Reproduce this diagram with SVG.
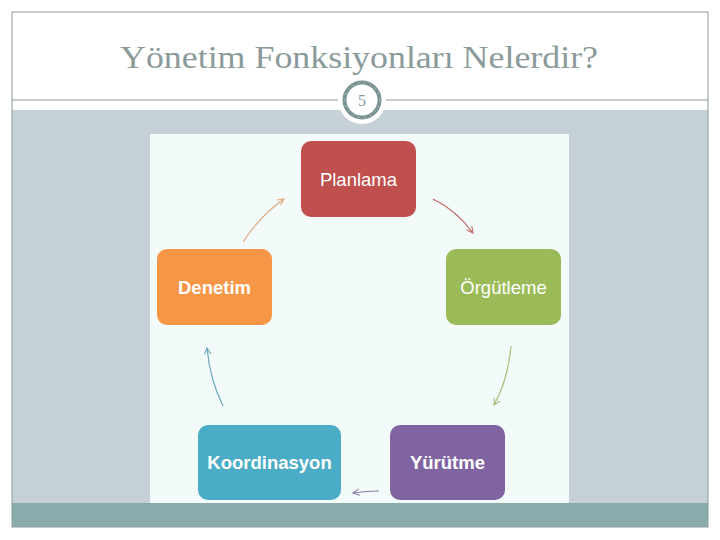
<svg xmlns="http://www.w3.org/2000/svg" width="720" height="540" viewBox="0 0 720 540">
<defs>
<style>
.node rect{stroke:none}
.lbl{font-family:"Liberation Sans",Arial,sans-serif;font-size:18.5px;fill:#ffffff;text-anchor:middle}
.b{font-weight:bold}
.conn path{fill:none;stroke-width:1.2}
</style>
<marker id="ah-o" viewBox="0 0 10 10" refX="9" refY="5" markerWidth="8" markerHeight="8" orient="auto" markerUnits="userSpaceOnUse"><path d="M1,1 L9,5 L1,9" fill="none" stroke="#e2a878" stroke-width="1.3"/></marker>
<marker id="ah-r" viewBox="0 0 10 10" refX="9" refY="5" markerWidth="8" markerHeight="8" orient="auto" markerUnits="userSpaceOnUse"><path d="M1,1 L9,5 L1,9" fill="none" stroke="#c46464" stroke-width="1.3"/></marker>
<marker id="ah-g" viewBox="0 0 10 10" refX="9" refY="5" markerWidth="8" markerHeight="8" orient="auto" markerUnits="userSpaceOnUse"><path d="M1,1 L9,5 L1,9" fill="none" stroke="#a9bd7a" stroke-width="1.3"/></marker>
<marker id="ah-p" viewBox="0 0 10 10" refX="9" refY="5" markerWidth="8" markerHeight="8" orient="auto" markerUnits="userSpaceOnUse"><path d="M1,1 L9,5 L1,9" fill="none" stroke="#8a7ca4" stroke-width="1.3"/></marker>
<marker id="ah-b" viewBox="0 0 10 10" refX="9" refY="5" markerWidth="8" markerHeight="8" orient="auto" markerUnits="userSpaceOnUse"><path d="M1,1 L9,5 L1,9" fill="none" stroke="#6aa6b8" stroke-width="1.3"/></marker>
</defs>
<rect x="0" y="0" width="720" height="540" fill="#ffffff"/>
<g id="frame">
<rect x="12" y="110" width="696" height="393" fill="#c5d1d7"/>
<rect x="12" y="503" width="696" height="24" fill="#8aabab"/>
<rect x="12" y="12" width="696" height="515" fill="none" stroke="#8a9a9a" stroke-width="1"/>
<line x1="12" y1="100" x2="708" y2="100" stroke="#8a9a9a" stroke-width="1"/>
</g>
<text x="120" y="68" textLength="478" lengthAdjust="spacingAndGlyphs" font-family="'Liberation Serif','Times New Roman',serif" font-size="31" fill="#8a9a9a">Yönetim Fonksiyonları Nelerdir?</text>
<g id="pagenum">
<circle cx="362" cy="100" r="24" fill="#ffffff"/>
<circle cx="362" cy="100" r="17.5" fill="#ffffff" stroke="#7b9393" stroke-width="4"/>
<circle cx="362" cy="100" r="17.5" fill="none" stroke="#c9d6d6" stroke-width="1" stroke-dasharray="1 5"/>
<text x="362" y="106" font-family="'Liberation Serif',serif" font-size="16" fill="#8a9a9a" text-anchor="middle">5</text>
</g>
<rect x="150" y="134" width="419" height="369" fill="#f2fafa"/>
<g id="planlama" class="node"><rect x="301" y="141" width="115" height="76" rx="10" fill="#c0504d"/><text class="lbl" x="358.5" y="185.5">Planlama</text></g>
<g id="orgutleme" class="node"><rect x="446" y="249" width="115" height="76" rx="10" fill="#9bbb59"/><text class="lbl" x="503.5" y="293.5">Örgütleme</text></g>
<g id="yurutme" class="node"><rect x="390" y="425" width="115" height="75" rx="10" fill="#8064a2"/><text class="lbl b" x="447.5" y="468.5">Yürütme</text></g>
<g id="koordinasyon" class="node"><rect x="198" y="425" width="143" height="75" rx="10" fill="#4bacc6"/><text class="lbl b" x="269.5" y="468.5">Koordinasyon</text></g>
<g id="denetim" class="node"><rect x="157" y="249" width="115" height="76" rx="10" fill="#f79646"/><text class="lbl b" x="214.5" y="293.5">Denetim</text></g>
<g id="connectors" class="conn">
<path d="M243,242 Q260,216 284,199" stroke="#e2a878" marker-end="url(#ah-o)"/>
<path d="M433,199 Q456,210 473,233" stroke="#c46464" marker-end="url(#ah-r)"/>
<path d="M511,346 Q508,380 494,405" stroke="#a9bd7a" marker-end="url(#ah-g)"/>
<path d="M379,491 Q366,491 353,493" stroke="#8a7ca4" marker-end="url(#ah-p)"/>
<path d="M223,406 Q210,380 207,348" stroke="#6aa6b8" marker-end="url(#ah-b)"/>
</g>
</svg>
